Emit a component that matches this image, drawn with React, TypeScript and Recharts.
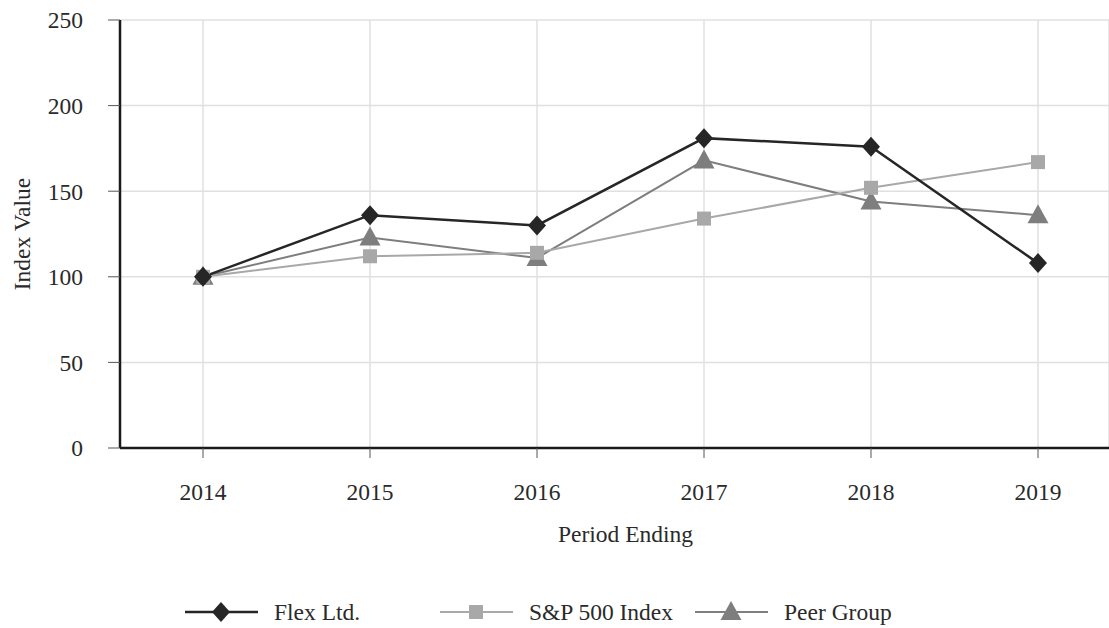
import React from "react";
import {
  LineChart,
  Line,
  XAxis,
  YAxis,
  CartesianGrid,
} from "recharts";

const years = ["2014", "2015", "2016", "2017", "2018", "2019"];
const flexValues = [100, 136, 130, 181, 176, 108];
const spValues = [100, 112, 114, 134, 152, 167];
const peerValues = [100, 123, 111, 168, 144, 136];
const yTicks = [0, 50, 100, 150, 200, 250];

const FONT = '"Liberation Serif", "Times New Roman", serif';
const TEXT = "#2a2a2a";
const FS = 23.5;

const data = years.map((year, i) => ({
  year,
  flex: flexValues[i],
  sp: spValues[i],
  peer: peerValues[i],
}));

const Diamond = ({ cx, cy, fill }: any) => {
  if (cx == null || cy == null) return null;
  const w = 9;
  const h = 10;
  return (
    <path
      d={`M${cx},${cy - h} L${cx + w},${cy} L${cx},${cy + h} L${cx - w},${cy} Z`}
      fill={fill}
    />
  );
};

const Square = ({ cx, cy, fill }: any) => {
  if (cx == null || cy == null) return null;
  const s = 7;
  return <rect x={cx - s} y={cy - s} width={s * 2} height={s * 2} fill={fill} />;
};

const Triangle = ({ cx, cy, fill }: any) => {
  if (cx == null || cy == null) return null;
  return (
    <path
      d={`M${cx},${cy - 11} L${cx + 10.5},${cy + 8} L${cx - 10.5},${cy + 8} Z`}
      fill={fill}
    />
  );
};

const series = [
  { key: "flex", name: "Flex Ltd.", color: "#262626", width: 2.5, Shape: Diamond },
  { key: "sp", name: "S&P 500 Index", color: "#a8a8a8", width: 2, Shape: Square },
  { key: "peer", name: "Peer Group", color: "#7e7e7e", width: 2, Shape: Triangle },
];

// legend laid out in fixed-width columns like the original
function LegendRow() {
  return (
    <div
      style={{
        position: "absolute",
        left: 185,
        top: 598,
        display: "flex",
        height: 28,
      }}
    >
      {series.map((s) => (
        <div
          key={s.key}
          style={{ width: 255, display: "flex", alignItems: "center", height: 28 }}
        >
          <svg width={73} height={28}>
            <line x1={0} y1={14} x2={73} y2={14} stroke={s.color} strokeWidth={s.width} />
            <s.Shape cx={36} cy={14} fill={s.color} />
          </svg>
          <span
            style={{
              marginLeft: 16,
              fontFamily: FONT,
              fontSize: FS,
              color: TEXT,
              whiteSpace: "nowrap",
            }}
          >
            {s.name}
          </span>
        </div>
      ))}
    </div>
  );
}

export default function App() {
  return (
    <div
      style={{
        position: "absolute",
        left: 0,
        top: 0,
        width: 1109,
        height: 628,
        background: "#fff",
      }}
    >
      <LineChart
        width={1109}
        height={628}
        data={data}
        margin={{ top: 20, right: 0, left: 0, bottom: 100 }}
      >
        <CartesianGrid stroke="#e0e0e0" strokeWidth={1.5} />
        <XAxis
          dataKey="year"
          scale="point"
          padding={{ left: 83, right: 71 }}
          axisLine={{ stroke: "#1a1a1a", strokeWidth: 2.5 }}
          tickLine={{ stroke: "#555" }}
          tickSize={10}
          tickMargin={25}
          height={80}
          tick={{ fill: TEXT, fontSize: FS, fontFamily: FONT }}
          label={{
            value: "Period Ending",
            position: "bottom",
            offset: -3,
            dx: 11,
            style: { fill: TEXT, fontSize: FS, fontFamily: FONT },
          }}
        />
        <YAxis
          width={120}
          domain={[0, 250]}
          ticks={yTicks}
          interval={0}
          axisLine={{ stroke: "#1a1a1a", strokeWidth: 2.5 }}
          tickLine={{ stroke: "#555" }}
          tickSize={12}
          tickMargin={25}
          tick={{ fill: TEXT, fontSize: FS, fontFamily: FONT }}
          label={{
            value: "Index Value",
            angle: -90,
            position: "insideLeft",
            offset: 22,
            style: { textAnchor: "middle", fill: TEXT, fontSize: FS, fontFamily: FONT },
          }}
        />
        {[...series].reverse().map((s) => (
          <Line
            key={s.key}
            type="linear"
            dataKey={s.key}
            name={s.name}
            stroke={s.color}
            strokeWidth={s.width}
            dot={(p: any) => <s.Shape key={`${s.key}-${p.index}`} cx={p.cx} cy={p.cy} fill={s.color} />}
            activeDot={false}
            isAnimationActive={false}
          />
        ))}
      </LineChart>
      <LegendRow />
    </div>
  );
}
